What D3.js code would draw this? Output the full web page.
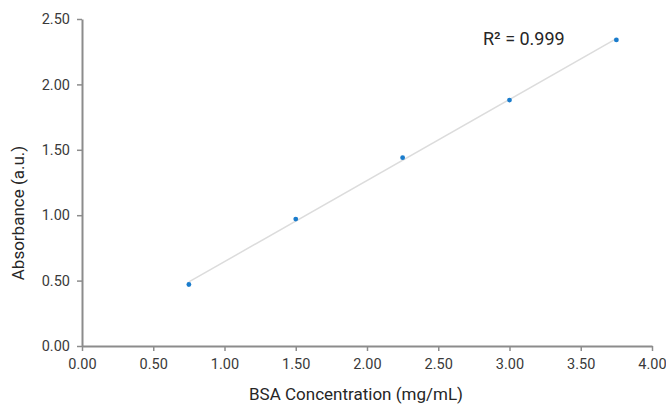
<!DOCTYPE html>
<html>
<head>
<meta charset="utf-8">
<script src="https://cdn.jsdelivr.net/npm/d3@7"></script>
<style>
  body { margin: 0; background: #fff; }
  svg { font-family: Roboto, "Open Sans", sans-serif; }
</style>
</head>
<body>
<svg id="chart" width="666" height="406"></svg>
<script>
// data
var concentration = [0.75, 1.50, 2.25, 3.00, 3.75];
var absorbance = [0.47, 0.97, 1.44, 1.88, 2.34];
var xTicks = [0, 0.5, 1, 1.5, 2, 2.5, 3, 3.5, 4];
var yTicks = [0, 0.5, 1, 1.5, 2, 2.5];
var rSquared = "R² = 0.999";

var plotLeft = 82, plotRight = 652, plotTop = 19, plotBottom = 346;

var svg = d3.select("#chart");
var x = d3.scaleLinear().domain([0, 4]).range([plotLeft, plotRight]);
var y = d3.scaleLinear().domain([0, 2.5]).range([plotBottom, plotTop]);

// linear fit for the trend line
var n = concentration.length;
var mx = d3.mean(concentration), my = d3.mean(absorbance);
var sxy = 0, sxx = 0;
for (var i = 0; i < n; i++) {
    sxy += (concentration[i] - mx) * (absorbance[i] - my);
    sxx += (concentration[i] - mx) * (concentration[i] - mx);
}
var slope = sxy / sxx, icept = my - slope * mx;
var x0 = d3.min(concentration), x1 = d3.max(concentration);

// y axis
var yAxis = svg.append("g")
    .attr("transform", "translate(" + plotLeft + ",0)")
    .call(d3.axisLeft(y).tickValues(yTicks).tickFormat(d3.format(".2f")).tickSize(5).tickSizeOuter(0));
// x axis
var xAxis = svg.append("g")
    .attr("transform", "translate(0," + plotBottom + ")")
    .call(d3.axisBottom(x).tickValues(xTicks).tickFormat(d3.format(".2f")).tickSize(5).tickSizeOuter(0));

[yAxis, xAxis].forEach(function(g) {
    g.select(".domain").attr("stroke", "#8c8c8c").attr("stroke-width", 2);
    g.selectAll(".tick line").attr("stroke", "#8c8c8c").attr("stroke-width", 1.5);
    g.selectAll(".tick text").attr("fill", "#3a3a3a").attr("font-size", 14.5)
        .attr("font-family", "Roboto, sans-serif");
});
yAxis.selectAll(".tick text").attr("x", -12);
xAxis.selectAll(".tick text").attr("y", 13);

// trend line
svg.append("line")
    .attr("x1", x(x0)).attr("y1", y(slope * x0 + icept))
    .attr("x2", x(x1)).attr("y2", y(slope * x1 + icept))
    .attr("stroke", "#dcdcdc")
    .attr("stroke-width", 1.5);

// points
svg.selectAll("circle.pt")
    .data(concentration)
    .enter().append("circle")
    .attr("class", "pt")
    .attr("cx", function(d) { return x(d); })
    .attr("cy", function(d, i) { return y(absorbance[i]); })
    .attr("r", 2.4)
    .attr("fill", "#1a7ccc");

// R² label
svg.append("text")
    .attr("x", 483).attr("y", 45)
    .attr("font-size", 18)
    .attr("fill", "#262626")
    .text(rSquared);

// axis titles
svg.append("text")
    .attr("x", 356).attr("y", 400)
    .attr("text-anchor", "middle")
    .attr("font-size", 17)
    .attr("fill", "#262626")
    .text("BSA Concentration (mg/mL)");

svg.append("text")
    .attr("transform", "translate(24,213) rotate(-90)")
    .attr("text-anchor", "middle")
    .attr("font-size", 17)
    .attr("fill", "#262626")
    .text("Absorbance (a.u.)");
</script>
</body>
</html>
